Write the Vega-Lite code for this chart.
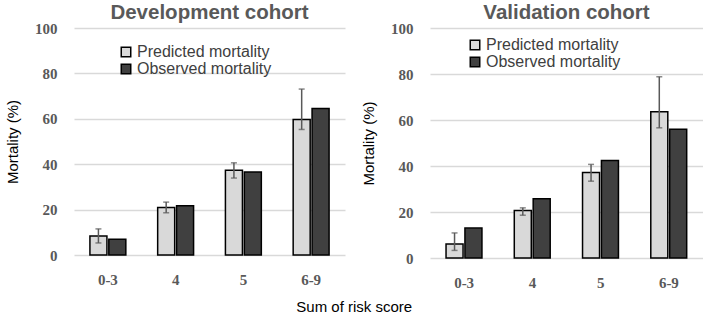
{
  "$schema": "https://vega.github.io/schema/vega-lite/v6.json",
  "background": "white",
  "padding": {"left": 5, "right": 0, "top": 2, "bottom": 2},
  "spacing": 16,
  "data": {"values": [
    {"cohort": "Development", "score": "0-3", "series": "Predicted mortality", "value": 8.4, "lo": 5.3, "hi": 11.5},
    {"cohort": "Development", "score": "0-3", "series": "Observed mortality", "value": 6.9},
    {"cohort": "Development", "score": "4", "series": "Predicted mortality", "value": 20.9, "lo": 18.6, "hi": 23.3},
    {"cohort": "Development", "score": "4", "series": "Observed mortality", "value": 21.7},
    {"cohort": "Development", "score": "5", "series": "Predicted mortality", "value": 37.3, "lo": 33.9, "hi": 40.6},
    {"cohort": "Development", "score": "5", "series": "Observed mortality", "value": 36.6},
    {"cohort": "Development", "score": "6-9", "series": "Predicted mortality", "value": 59.7, "lo": 55.3, "hi": 73.1},
    {"cohort": "Development", "score": "6-9", "series": "Observed mortality", "value": 64.5},
    {"cohort": "Validation", "score": "0-3", "series": "Predicted mortality", "value": 6.1, "lo": 3.3, "hi": 10.9},
    {"cohort": "Validation", "score": "0-3", "series": "Observed mortality", "value": 13.0},
    {"cohort": "Validation", "score": "4", "series": "Predicted mortality", "value": 20.6, "lo": 18.6, "hi": 21.8},
    {"cohort": "Validation", "score": "4", "series": "Observed mortality", "value": 25.8},
    {"cohort": "Validation", "score": "5", "series": "Predicted mortality", "value": 37.2, "lo": 33.4, "hi": 40.7},
    {"cohort": "Validation", "score": "5", "series": "Observed mortality", "value": 42.4},
    {"cohort": "Validation", "score": "6-9", "series": "Predicted mortality", "value": 63.6, "lo": 56.6, "hi": 78.8},
    {"cohort": "Validation", "score": "6-9", "series": "Observed mortality", "value": 56.0}
  ]},
  "title": {"text": "Sum of risk score", "orient": "bottom", "anchor": "middle", "fontSize": 15, "font": "Liberation Sans", "fontWeight": "normal", "color": "#000000", "offset": 10},
  "config": {
    "view": {"stroke": null},
    "axisY": {"domain": false, "ticks": false, "grid": true, "gridColor": "#d9d9d9", "gridWidth": 1.5, "values": [0, 20, 40, 60, 80, 100],
      "labelFont": "Liberation Serif", "labelFontWeight": "bold", "labelFontSize": 15, "labelColor": "#595959", "labelPadding": 17,
      "titleFont": "Liberation Sans", "titleFontWeight": "normal", "titleFontSize": 15, "titleColor": "#000000", "titlePadding": 14},
    "axisX": {"domain": false, "ticks": false, "grid": false, "labelAngle": 0,
      "labelFont": "Liberation Serif", "labelFontWeight": "bold", "labelFontSize": 15, "labelColor": "#595959", "labelPadding": 17},
    "legend": {"orient": "none", "title": null, "symbolType": "square", "symbolSize": 90, "symbolStrokeColor": "#000000", "symbolStrokeWidth": 1.5,
      "labelFont": "Liberation Sans", "labelFontSize": 16, "labelColor": "#404040", "rowPadding": 1, "labelOffset": 3},
    "title": {"font": "Liberation Sans", "fontWeight": "bold", "fontSize": 20.5, "color": "#595959", "offset": -2}
  },
  "resolve": {"legend": {"color": "independent"}},
  "hconcat": [
    {
      "width": 271, "height": 227,
      "title": "Development cohort",
      "transform": [{"filter": "datum.cohort === 'Development'"}],
      "encoding": {
        "x": {"field": "score", "type": "nominal", "sort": ["0-3", "4", "5", "6-9"], "scale": {"paddingInner": 0.47, "paddingOuter": 0.235}, "axis": {"title": null}},
        "xOffset": {"field": "series", "type": "nominal", "sort": ["Predicted mortality", "Observed mortality"], "scale": {"paddingInner": 0.1}}
      },
      "layer": [
        {"mark": {"type": "bar", "stroke": "#000000", "strokeWidth": 1.5},
         "encoding": {
           "y": {"field": "value", "type": "quantitative", "scale": {"domain": [0, 100]}, "axis": {"title": "Mortality (%)"}},
           "color": {"field": "series", "type": "nominal", "sort": ["Predicted mortality", "Observed mortality"],
             "scale": {"domain": ["Predicted mortality", "Observed mortality"], "range": ["#d9d9d9", "#404040"]},
             "legend": {"legendX": 44, "legendY": 16}}
         }},
        {"transform": [{"filter": "datum.series === 'Predicted mortality'"}],
         "mark": {"type": "rule", "color": "#595959", "strokeWidth": 1.5},
         "encoding": {"y": {"field": "lo", "type": "quantitative"}, "y2": {"field": "hi"}}},
        {"transform": [{"filter": "datum.series === 'Predicted mortality'"}],
         "mark": {"type": "tick", "color": "#595959", "thickness": 1.5, "size": 6},
         "encoding": {"y": {"field": "lo", "type": "quantitative"}}},
        {"transform": [{"filter": "datum.series === 'Predicted mortality'"}],
         "mark": {"type": "tick", "color": "#595959", "thickness": 1.5, "size": 6},
         "encoding": {"y": {"field": "hi", "type": "quantitative"}}}
      ]
    },
    {
      "width": 273, "height": 230,
      "title": "Validation cohort",
      "transform": [{"filter": "datum.cohort === 'Validation'"}],
      "encoding": {
        "x": {"field": "score", "type": "nominal", "sort": ["0-3", "4", "5", "6-9"], "scale": {"paddingInner": 0.47, "paddingOuter": 0.235}, "axis": {"title": null}},
        "xOffset": {"field": "series", "type": "nominal", "sort": ["Predicted mortality", "Observed mortality"], "scale": {"paddingInner": 0.1}}
      },
      "layer": [
        {"mark": {"type": "bar", "stroke": "#000000", "strokeWidth": 1.5},
         "encoding": {
           "y": {"field": "value", "type": "quantitative", "scale": {"domain": [0, 100]}, "axis": {"title": "Mortality (%)"}},
           "color": {"field": "series", "type": "nominal", "sort": ["Predicted mortality", "Observed mortality"],
             "scale": {"domain": ["Predicted mortality", "Observed mortality"], "range": ["#d9d9d9", "#404040"]},
             "legend": {"legendX": 37, "legendY": 9}}
         }},
        {"transform": [{"filter": "datum.series === 'Predicted mortality'"}],
         "mark": {"type": "rule", "color": "#595959", "strokeWidth": 1.5},
         "encoding": {"y": {"field": "lo", "type": "quantitative"}, "y2": {"field": "hi"}}},
        {"transform": [{"filter": "datum.series === 'Predicted mortality'"}],
         "mark": {"type": "tick", "color": "#595959", "thickness": 1.5, "size": 6},
         "encoding": {"y": {"field": "lo", "type": "quantitative"}}},
        {"transform": [{"filter": "datum.series === 'Predicted mortality'"}],
         "mark": {"type": "tick", "color": "#595959", "thickness": 1.5, "size": 6},
         "encoding": {"y": {"field": "hi", "type": "quantitative"}}}
      ]
    }
  ]
}
